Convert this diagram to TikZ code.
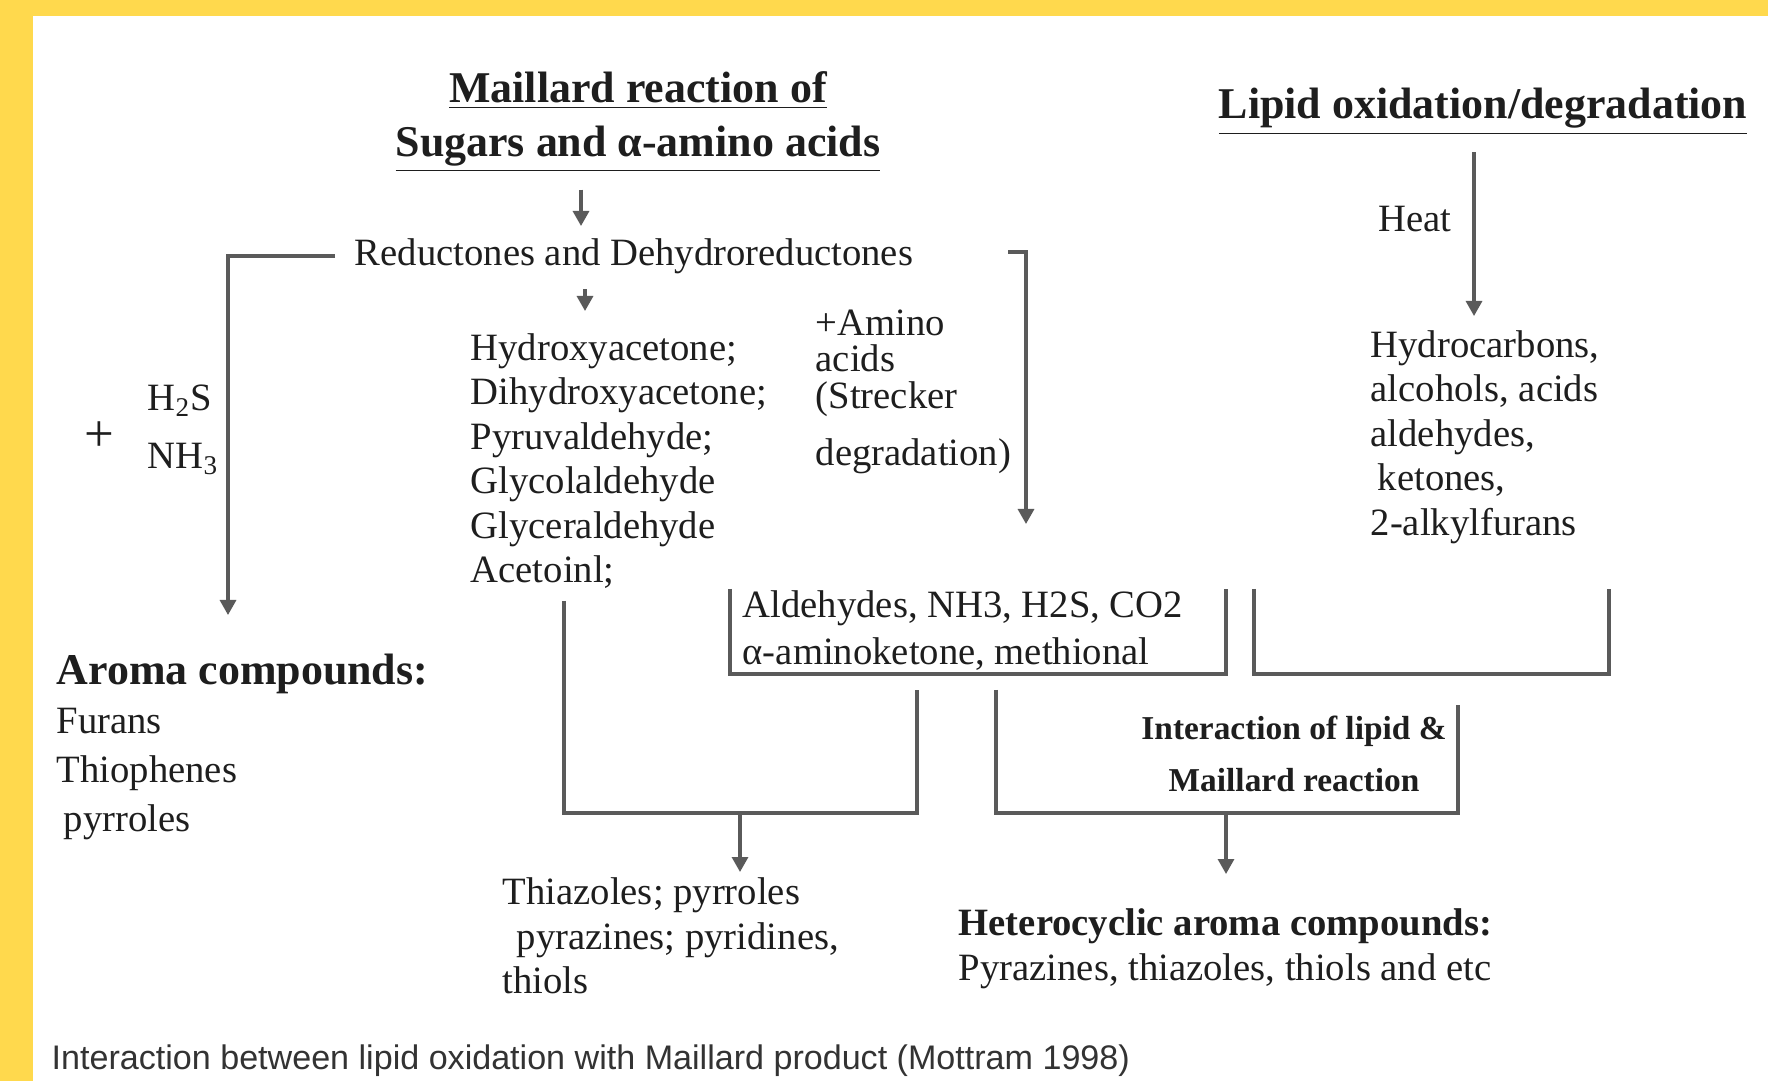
\documentclass[tikz,border=0pt]{standalone}
\usepackage{fontspec}
\setmainfont{Liberation Serif}
\newfontfamily\capfont{Liberation Sans}
\usetikzlibrary{arrows.meta, positioning, calc}
\definecolor{bgyellow}{HTML}{FFD94D}
\definecolor{lngray}{HTML}{5A5A5A}
\definecolor{txtblk}{HTML}{1E1E1E}
\definecolor{capgray}{HTML}{333333}

\begin{document}
\begin{tikzpicture}[
  arr/.style={-{Triangle[length=1.5mm, width=1.6mm]}, lngray, line width=0.9pt},
  brk/.style={lngray, line width=0.9pt},
  body/.style={font=\fontsize{11}{12.65}\selectfont, text=txtblk, align=left, inner sep=0pt},
  head/.style={font=\fontsize{12.5}{15.4}\selectfont\bfseries, text=txtblk, align=center, inner sep=0pt}]

% Background
\fill[bgyellow] (0,0) rectangle (17.68,-10.81);
\fill[white] (0.33,-0.16) rectangle (17.68,-10.81);
\useasboundingbox (0,0) rectangle (17.68,-10.81);

% =========== Titles ===========
\node[head] (maillard) at (6.38,-1.22) {\underline{Maillard reaction of}\\\underline{Sugars and α-amino acids}};
\node[head] (lipid) at (14.83,-1.12) {\underline{Lipid oxidation/degradation}};

% =========== Maillard branch ===========
\node[body] (reduct) at (6.34,-2.56) {Reductones and Dehydroreductones};

\node[body, anchor=west] (carbonyls) at (4.70,-4.61)
  {Hydroxyacetone;\\Dihydroxyacetone;\\Pyruvaldehyde;\\Glycolaldehyde\\Glyceraldehyde\\Acetoinl;};

\node[body, anchor=west, font=\fontsize{11}{10.3}\selectfont] (amino) at (8.15,-3.92)
  {+Amino\\acids\\(Strecker\\[6pt]degradation)};

\node[body, font=\fontsize{15}{15}\selectfont] (plus) at (0.99,-4.37) {+};
\node[body, anchor=west, font=\fontsize{11}{16.5}\selectfont] (gases) at (1.47,-4.30)
  {H\textsubscript{2}S\\NH\textsubscript{3}};

\node[body, anchor=west, font=\fontsize{11}{14}\selectfont] (aroma) at (0.56,-7.47)
  {{\fontsize{12.5}{15}\selectfont\bfseries Aroma compounds:}\\Furans\\Thiophenes\\\hspace{2pt}pyrroles};

\node[body, anchor=west, font=\fontsize{11}{13.4}\selectfont] (ald) at (7.42,-6.31)
  {Aldehydes, NH3, H2S, CO2\\α-aminoketone, methional};

% =========== Lipid branch ===========
\node[body] (heat) at (14.15,-2.19) {Heat};
\node[body, anchor=west] (hydro) at (13.70,-4.37)
  {Hydrocarbons,\\alcohols, acids\\aldehydes,\\\hspace{2pt}ketones,\\2-alkylfurans};

% =========== Products ===========
\node[body, font=\fontsize{9.5}{14.8}\selectfont\bfseries, align=center] (interact) at (12.94,-7.54)
  {Interaction of lipid \&\\Maillard reaction};

\node[body, anchor=west] (thiaz) at (5.02,-9.36)
  {Thiazoles; pyrroles\\\hspace{4pt}pyrazines; pyridines,\\thiols};

\node[body, anchor=west, font=\fontsize{11}{12.8}\selectfont] (hetero) at (9.58,-9.49)
  {\textbf{Heterocyclic aroma compounds:}\\Pyrazines, thiazoles, thiols and etc};

% Caption
\node[anchor=west, inner sep=0pt, text=capgray, font=\capfont\fontsize{9.7}{11}\selectfont] (caption) at (0.51,-10.61)
  {Interaction between lipid oxidation with Maillard product (Mottram 1998)};

% =========== Connectors ===========
\coordinate (maitip) at (5.81,-2.26);
\coordinate (redtip) at (5.85,-3.11);
\coordinate (lfttip) at (2.28,-6.15);
\coordinate (rgtstart) at (10.08,-2.52);
\coordinate (rgttip) at (10.26,-5.24);
\coordinate (heattip) at (14.74,-3.16);

\draw[arr] ([yshift=-1.6mm]maitip |- maillard.south) -- (maitip);
\draw[arr] ([yshift=-1.5mm]redtip |- reduct.south) -- (redtip);
\draw[arr] ([xshift=-1.9mm]reduct.west) -| (lfttip);
\draw[arr] (rgtstart) -| (rgttip);
\draw[arr] ([yshift=-1.6mm]heattip |- lipid.south) -- (heattip);

% brackets under the products
\coordinate (aldtl) at (7.30,-5.89);
\coordinate (aldtr) at (12.26,-5.89);
\coordinate (hydtl) at (12.54,-5.89);
\coordinate (hydtr) at (16.09,-5.89);
\draw[brk] (aldtl) -- ++(0,-0.85) -| (aldtr);
\draw[brk] (hydtl) -- ++(0,-0.85) -| (hydtr);

% collecting brackets
\coordinate (colAl) at (5.64,-6.01);
\coordinate (colAr) at (9.17,-6.90);
\coordinate (colAb) at (7.40,-8.13);
\coordinate (thztip) at (7.40,-8.72);
\coordinate (colBl) at (9.96,-6.90);
\coordinate (colBr) at (14.58,-7.05);
\coordinate (colBb) at (12.26,-8.13);
\coordinate (hettip) at (12.26,-8.74);
\draw[brk] (colAl) -- ++(0,-2.12) -| (colAr);
\draw[brk] (colBl) -- ++(0,-1.23) -| (colBr);
\draw[arr] (colAb) -- (thztip);
\draw[arr] (colBb) -- (hettip);

\end{tikzpicture}
\end{document}
